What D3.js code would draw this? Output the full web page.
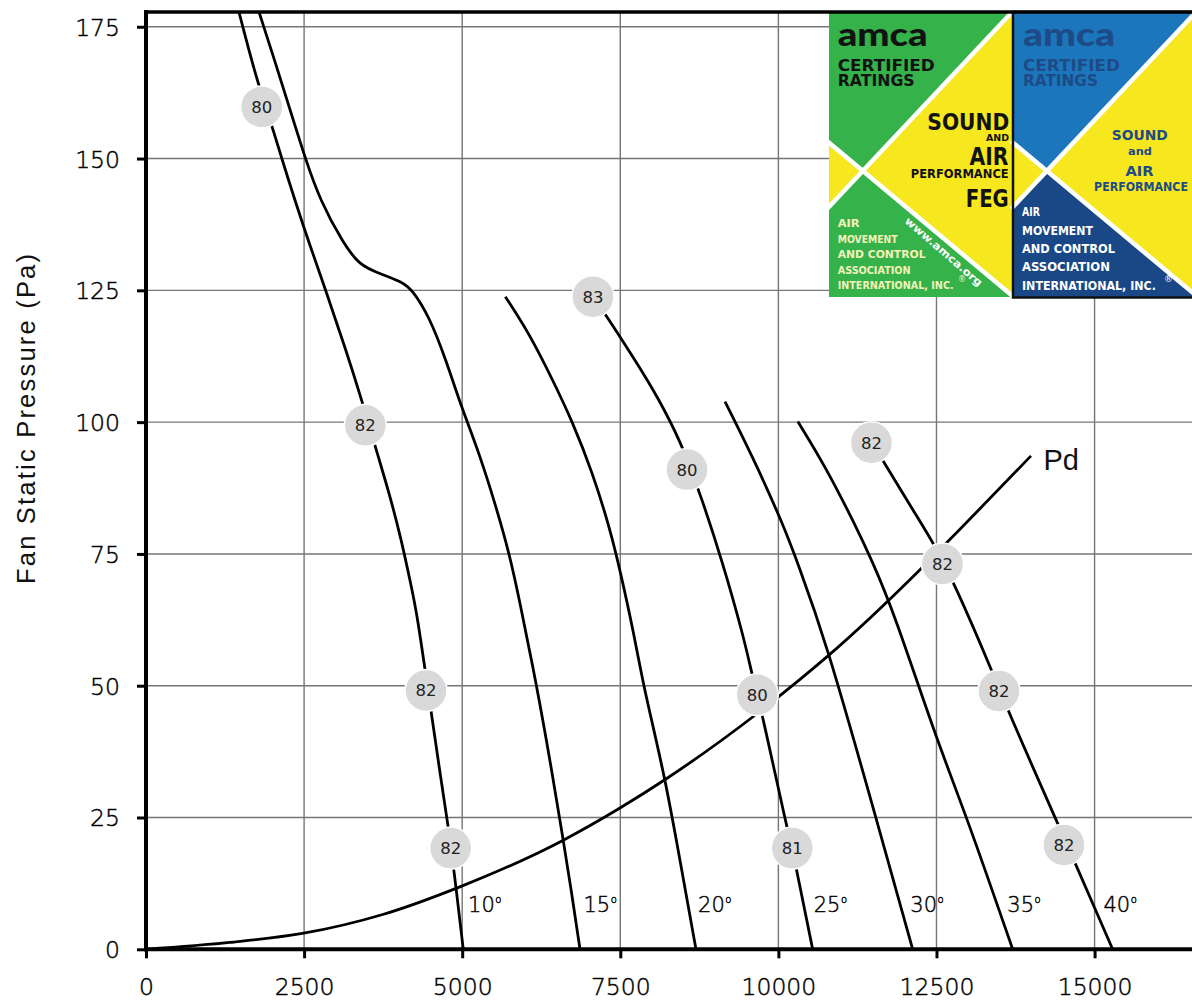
<!DOCTYPE html>
<html>
<head>
<meta charset="utf-8">
<script src="https://cdn.jsdelivr.net/npm/d3@7/dist/d3.min.js"></script>
<style>
  html, body { margin: 0; padding: 0; background: #fff; }
  svg { display: block; }
</style>
</head>
<body>
<svg id="chart" width="1192" height="1000"></svg>
<script>
// ---------------- DATA ----------------
const xTicks = [0, 2500, 5000, 7500, 10000, 12500, 15000];
const yTicks = [0, 25, 50, 75, 100, 125, 150, 175];
const bladeAngles = ["10", "15", "20", "25", "30", "35", "40"];

// [flow, static pressure (Pa)]
const blade10 = [[1470,177.8],[1750,164.9],[1988,156.4],[2146,150.0],[2487,137.1],[2846,124.9],[3162,113.7],[3427,103.6],[3626,95.3],[3847,86.5],[4040,77.6],[4190,69.1],[4285,63.7],[4459,49.2],[4649,33.4],[4780,23.3],[4870,15.0],[5017,0]];
const blade15 = [[1787,177.8],[2067,167.4],[2329,157.3],[2520,150.0],[2751,142.1],[3120,133.9],[3373,129.8],[3689,128.2],[4059,126.6],[4217,125.0],[4480,120.0],[4744,111.8],[4986,102.9],[5270,94.1],[5534,84.0],[5745,75.1],[5910,66.0],[6178,50.0],[6388,35.9],[6599,20.7],[6732,10.6],[6863,0]];
const blade20 = [[5682,123.8],[6061,116.8],[6431,108.0],[6747,100.0],[7064,90.3],[7326,80.2],[7484,72.6],[7726,59.3],[7864,50.0],[8207,32.7],[8444,16.9],[8697,0]];
const blade25 = [[7067,123.8],[7275,120.3],[7699,112.4],[8095,104.8],[8490,95.3],[8610,91.0],[8743,87.1],[9110,73.8],[9450,59.3],[9578,52.4],[9666,48.3],[9752,44.1],[10131,23.3],[10215,19.2],[10289,15.0],[10542,0]];
const blade30 = [[9156,103.9],[9619,92.8],[10088,80.2],[10289,73.8],[10748,58.7],[11554,24.5],[12124,0]];
const blade35 = [[10308,100.1],[10748,91.5],[11227,80.2],[11476,73.8],[11813,64.4],[12503,39.7],[12977,25.2],[13705,0]];
const blade40 = [[11486,96.0],[11664,92.5],[12160,82.7],[12470,76.7],[12782,69.4],[13373,53.0],[13635,45.1],[14426,23.6],[14706,16.0],[15286,0]];
const pdCurve = [[0,0],[1322,1.3],[2472,3.0],[3743,6.6],[4953,11.8],[6599,20.7],[7495,26.8],[8234,32.4],[9630,44.4],[10342,51.2],[10789,55.7],[12239,72.0],[12668,77.2],[13994,93.6]];

// sound level markers [flow, pressure, dB]
const sound10 = [[1830,159.8,80],[3468,99.4,82],[4428,49.1,82],[4818,19.2,82]];
const sound25 = [[7067,123.8,83],[8556,91.0,80],[9666,48.3,80],[10220,19.2,81]];
const sound40 = [[11471,96.1,82],[12595,73.1,82],[13488,49.0,82],[14516,19.8,82]];

const bladeCurves = [blade10, blade15, blade20, blade25, blade30, blade35, blade40];
const soundMarks = [].concat(sound10, sound25, sound40);

// ---------------- LAYOUT ----------------
const svg = d3.select("#chart");
const X0 = 146, X1 = 1192.6, Y0 = 949.3, Y1 = 12;
const x = d3.scaleLinear().domain([0, 16550]).range([X0, X1]);
const y = d3.scaleLinear().domain([0, 177.8]).range([Y0, Y1]);
const tickFont = "'DejaVu Sans', Verdana, sans-serif";

svg.append("defs").append("clipPath").attr("id", "plotclip")
  .append("rect").attr("x", X0).attr("y", Y1).attr("width", X1 - X0).attr("height", Y0 - Y1);

// grid
const grid = svg.append("g").attr("stroke", "#767676").attr("stroke-width", 1.4);
grid.selectAll("line.v").data(xTicks.filter(d => d > 0)).enter().append("line")
  .attr("x1", d => x(d)).attr("x2", d => x(d)).attr("y1", Y1).attr("y2", Y0);
grid.selectAll("line.h").data(yTicks.filter(d => d > 0)).enter().append("line")
  .attr("x1", X0).attr("x2", X1).attr("y1", d => y(d)).attr("y2", d => y(d));

// ---------------- CURVES ----------------
const bladeLine = d3.line().x(d => x(d[0])).y(d => y(d[1])).curve(d3.curveBasis);
const pdLine = d3.line().x(d => x(d[0])).y(d => y(d[1])).curve(d3.curveMonotoneX);
const curves = svg.append("g").attr("clip-path", "url(#plotclip)");
curves.selectAll("path.blade").data(bladeCurves).enter().append("path")
  .attr("d", bladeLine).attr("fill", "none").attr("stroke", "#000").attr("stroke-width", 2.8)
  .attr("stroke-linejoin", "round");
curves.append("path").datum(pdCurve).attr("d", pdLine)
  .attr("fill", "none").attr("stroke", "#000").attr("stroke-width", 2.8);

// Pd label
const pdLast = pdCurve[pdCurve.length - 1];
svg.append("text").attr("x", x(pdLast[0]) + 12.5).attr("y", y(pdLast[1]) + 14)
  .attr("font-family", "'Liberation Sans', Arial, sans-serif").attr("font-size", 29)
  .attr("fill", "#111").text("Pd");

// blade angle labels: placed right of each curve near 8.4 Pa
function xAtP(curve, p) {
  for (let i = 0; i < curve.length - 1; i++) {
    const a = curve[i], b = curve[i + 1];
    if ((a[1] - p) * (b[1] - p) <= 0) {
      const t = (p - a[1]) / (b[1] - a[1]);
      return a[0] + t * (b[0] - a[0]);
    }
  }
  return curve[curve.length - 1][0];
}
const angG = svg.append("g").attr("font-family", tickFont).attr("font-weight", 300)
  .attr("font-size", 21).attr("fill", "#000").attr("stroke", "#000").attr("stroke-width", 0.45);
bladeCurves.forEach((c, i) => {
  const t = angG.append("text").attr("x", x(xAtP(c, 8.4)) + 10).attr("y", 911.7);
  t.append("tspan").text(bladeAngles[i]);
  t.append("tspan").attr("font-size", 10).attr("dy", -8.5).attr("dx", 0.5).text("o");
});

// sound markers
const mk = svg.append("g");
mk.selectAll("circle").data(soundMarks).enter().append("circle")
  .attr("cx", d => x(d[0])).attr("cy", d => y(d[1])).attr("r", 21)
  .attr("fill", "#d9d9d9").attr("stroke", "#fff").attr("stroke-width", 1.5);
mk.selectAll("text").data(soundMarks).enter().append("text")
  .attr("x", d => x(d[0])).attr("y", d => y(d[1]) + 6)
  .attr("text-anchor", "middle").attr("font-family", tickFont).attr("font-size", 16.5)
  .attr("fill", "#222").text(d => d[2]);

// ---------------- AMCA LOGO ----------------
function panel(x0, scheme) {
  const g = svg.append("g").attr("transform", `translate(${x0},0)`);
  const W = 184, T = 13, B = 297;
  g.append("polygon").attr("points", `0,${T} ${W},${T} ${W},${B} 0,${B}`).attr("fill", scheme.yellow);
  g.append("polygon").attr("points", `0,${T} 182,${T} 34.5,171 0,142.5`).attr("fill", scheme.top);
  g.append("polygon").attr("points", `0,207 34.5,171 ${W},296 ${W},${B} 0,${B}`).attr("fill", scheme.bottom);
  const wl = g.append("g").attr("stroke", "#fff").attr("stroke-width", 4.5);
  wl.append("line").attr("x1", 184).attr("y1", 11).attr("x2", -2).attr("y2", 209);
  wl.append("line").attr("x1", -2).attr("y1", 141).attr("x2", 186).attr("y2", 298);
  return g;
}
// text fitted to a target width by font size, then stretched vertically to the target height
function txt(g, s, o) {
  const holder = g.append("g");
  const t = holder.append("text").attr("x", 0).attr("y", 0)
    .attr("font-family", o.ff || "'DejaVu Sans', sans-serif")
    .attr("font-weight", o.fw || "bold").attr("font-size", o.fs)
    .attr("fill", o.fill).attr("text-anchor", o.anchor || "start").text(s);
  let sy = 1;
  if (o.tl) {
    const L = t.node().getComputedTextLength();
    if (L > 0) {
      const f2 = o.fs * o.tl / L;
      t.attr("font-size", f2);
      sy = o.fs / f2;
    }
  }
  holder.attr("transform", `translate(${o.x},${o.y})` + (o.rot ? ` rotate(${o.rot})` : "") + ` scale(1,${sy})`);
  return t;
}

// green panel
const gp = panel(829, { yellow: "#f6e71f", top: "#35b24a", bottom: "#35b24a" });
const blk = "#121212";
txt(gp, "amca", { x: 8.7, y: 46.3, fs: 33, fill: blk, tl: 90, ff: "Lato, 'DejaVu Sans', sans-serif", fw: 900 });
txt(gp, "CERTIFIED", { x: 8.7, y: 71.3, fs: 16.5, fill: blk, tl: 97 });
txt(gp, "RATINGS", { x: 8.7, y: 86.3, fs: 16.5, fill: blk, tl: 77 });
txt(gp, "SOUND", { x: 180.3, y: 129.7, fs: 23, fill: blk, tl: 82, anchor: "end" });
txt(gp, "AND", { x: 180, y: 140.7, fs: 8, fill: blk, tl: 23, anchor: "end" });
txt(gp, "AIR", { x: 179.5, y: 165, fs: 25, fill: blk, tl: 39, anchor: "end" });
txt(gp, "PERFORMANCE", { x: 179.7, y: 178.3, fs: 13, fill: blk, tl: 98, anchor: "end" });
txt(gp, "FEG", { x: 179.7, y: 206.7, fs: 24, fill: blk, tl: 43, anchor: "end" });
const pale = "#f4f2b8";
[["AIR", 227, 22], ["MOVEMENT", 242.5, 60], ["AND CONTROL", 258, 88], ["ASSOCIATION", 273.5, 73], ["INTERNATIONAL, INC.", 289, 116]]
  .forEach(r => txt(gp, r[0], { x: 8.7, y: r[1], fs: 11, fill: pale, tl: r[2] }));
txt(gp, "®", { x: 129, y: 282, fs: 8, fill: pale, fw: "normal" });
txt(gp, "www.amca.org", { x: 75, y: 222, fs: 10.5, fill: "#fff", tl: 99, rot: 41 });

// blue panel
const bp = panel(1013, { yellow: "#f6e71f", top: "#1b76bc", bottom: "#1a4785" });
const navy = "#1e4a86";
txt(bp, "amca", { x: 10, y: 46.3, fs: 33, fill: navy, tl: 92, ff: "Lato, 'DejaVu Sans', sans-serif", fw: 900 });
txt(bp, "CERTIFIED", { x: 10, y: 71.3, fs: 16.5, fill: navy, tl: 97 });
txt(bp, "RATINGS", { x: 10, y: 86.3, fs: 16.5, fill: navy, tl: 75 });
txt(bp, "SOUND", { x: 126.7, y: 139.7, fs: 14, fill: navy, tl: 56, anchor: "middle" });
txt(bp, "and", { x: 127, y: 154.7, fs: 11, fill: navy, tl: 24, anchor: "middle" });
txt(bp, "AIR", { x: 126.5, y: 176.3, fs: 14, fill: navy, tl: 28, anchor: "middle" });
txt(bp, "PERFORMANCE", { x: 128, y: 190.7, fs: 12.5, fill: navy, tl: 94, anchor: "middle" });
[["AIR", 216.3, 18], ["MOVEMENT", 234.7, 71], ["AND CONTROL", 253, 93], ["ASSOCIATION", 271.3, 88], ["INTERNATIONAL, INC.", 289.7, 134]]
  .forEach(r => txt(bp, r[0], { x: 9, y: r[1], fs: 13, fill: "#fff", tl: r[2] }));
txt(bp, "®", { x: 151, y: 282, fs: 9, fill: "#fff", fw: "normal" });
svg.append("rect").attr("x", 1013).attr("y", 12).attr("width", 200).attr("height", 285.5)
  .attr("fill", "none").attr("stroke", "#111").attr("stroke-width", 2.5);

// ---------------- AXES / FRAME ----------------
const xAxis = d3.axisBottom(x).tickValues(xTicks).tickSize(9).tickPadding(14).tickFormat(d3.format("d"));
const yAxis = d3.axisLeft(y).tickValues(yTicks).tickSize(9).tickPadding(16).tickFormat(d3.format("d"));

const gx = svg.append("g").attr("transform", `translate(0,${Y0})`).call(xAxis);
const gy = svg.append("g").attr("transform", `translate(${X0},0)`).call(yAxis);
[gx, gy].forEach(g => {
  g.select(".domain").remove();
  g.selectAll(".tick line").attr("stroke", "#000").attr("stroke-width", 3);
  g.selectAll(".tick text").attr("font-family", tickFont).attr("font-weight", 300)
    .attr("font-size", 23.5).attr("fill", "#000").attr("stroke", "#000").attr("stroke-width", 0.45);
});
gx.selectAll(".tick text").attr("dy", 0).attr("y", 46);
gy.selectAll(".tick text").attr("dy", "0.36em").attr("x", -26);

// frame lines
const fr = svg.append("g").attr("stroke", "#000").attr("stroke-linecap", "square");
fr.append("line").attr("x1", X0).attr("x2", 1200).attr("y1", Y1).attr("y2", Y1).attr("stroke-width", 3.5);
fr.append("line").attr("x1", X0).attr("x2", X0).attr("y1", Y1).attr("y2", Y0).attr("stroke-width", 4);
fr.append("line").attr("x1", X0).attr("x2", 1200).attr("y1", Y0).attr("y2", Y0).attr("stroke-width", 4);

// y axis title
svg.append("text").attr("transform", "translate(35,419) rotate(-90)")
  .attr("text-anchor", "middle").attr("font-family", "'Liberation Sans', Arial, sans-serif")
  .attr("font-size", 25.5).attr("fill", "#111")
  .attr("textLength", 330).attr("lengthAdjust", "spacing")
  .text("Fan Static Pressure (Pa)");
</script>
</body>
</html>
